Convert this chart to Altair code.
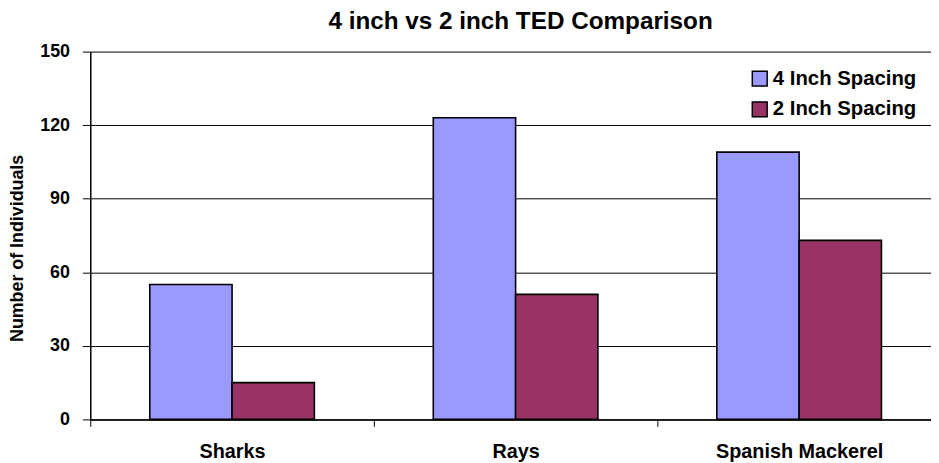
import altair as alt
import pandas as pd

categories = ["Sharks", "Rays", "Spanish Mackerel"]
series = ["4 Inch Spacing", "2 Inch Spacing"]
four_inch = [55, 123, 109]
two_inch = [15, 51, 73]
colors = ["#9999FF", "#993366"]
y_ticks = [0, 30, 60, 90, 120, 150]

rows = []
for c, a, b in zip(categories, four_inch, two_inch):
    rows.append({"category": c, "series": series[0], "value": a})
    rows.append({"category": c, "series": series[1], "value": b})
df = pd.DataFrame(rows)

FONT = "Liberation Sans"

chart = (
    alt.Chart(df)
    .mark_bar(stroke="black", strokeWidth=1.6)
    .encode(
        x=alt.X(
            "category:N",
            sort=categories,
            scale=alt.Scale(paddingInner=0.0699, paddingOuter=0.0175, align=1),
            axis=alt.Axis(
                title=None,
                labelAngle=0,
                labelFont=FONT,
                labelFontSize=20,
                labelFontWeight="bold",
                labelColor="black",
                labelPadding=15,
                bandPosition=0,
                tickOffset=-10,
                labelOffset=10,
                ticks=True,
                tickSize=7,
                tickColor="black",
                domainColor="black",
                domainWidth=1.5,
                grid=False,
            ),
        ),
        xOffset=alt.XOffset(
            "series:N",
            sort=series,
            scale=alt.Scale(paddingInner=0, paddingOuter=0.602),
        ),
        y=alt.Y(
            "value:Q",
            scale=alt.Scale(domain=[0, 150], nice=False),
            axis=alt.Axis(
                values=y_ticks,
                title="Number of Individuals",
                titleFont=FONT,
                titleFontSize=18,
                titleFontWeight="bold",
                titleColor="black",
                titleAngle=-90,
                titleAlign="center",
                titleBaseline="middle",
                titleX=-73,
                titleY=198,
                labelFont=FONT,
                labelFontSize=18,
                labelFontWeight="bold",
                labelColor="black",
                labelPadding=13,
                tickSize=8,
                tickColor="black",
                domainColor="black",
                domainWidth=1.5,
                grid=True,
                gridColor="black",
                gridWidth=1,
            ),
        ),
        color=alt.Color(
            "series:N",
            sort=series,
            scale=alt.Scale(domain=series, range=colors),
            legend=alt.Legend(
                title=None,
                orient="none",
                legendX=665,
                legendY=17,
                padding=0,
                symbolType="square",
                symbolSize=225,
                symbolStrokeColor="black",
                symbolStrokeWidth=1.5,
                symbolOpacity=1,
                labelFont=FONT,
                labelFontSize=20.5,
                labelFontWeight="bold",
                labelColor="black",
                labelOffset=3,
                rowPadding=9,
            ),
        ),
    )
    .properties(
        width=848,
        height=371,
        autosize=alt.AutoSizeParams(type="none"),
        padding={"left": 83, "top": 42, "right": 0, "bottom": 42},
        title=alt.Title(
            "4 inch vs 2 inch TED Comparison",
            font=FONT,
            fontSize=24.5,
            fontWeight="bold",
            color="black",
            anchor="middle",
            frame="group",
            dx=10,
            offset=8,
        ),
    )
    .configure_view(strokeWidth=0)
)

chart.save("out.html", embed_options={"renderer": "svg", "actions": False})
